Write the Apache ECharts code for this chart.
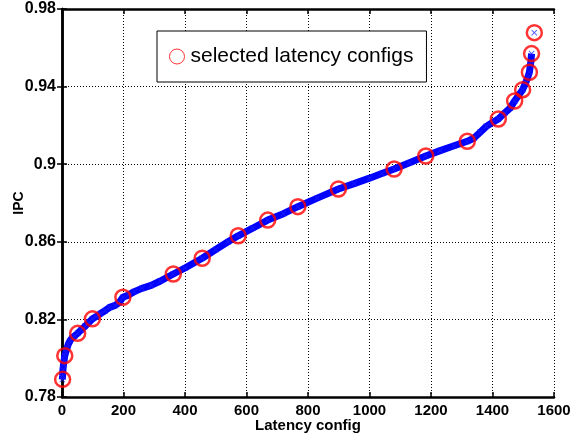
<!DOCTYPE html>
<html>
<head>
<meta charset="utf-8">
<script src="https://cdn.jsdelivr.net/npm/echarts@6/dist/echarts.min.js"></script>
<style>
  html, body { margin: 0; padding: 0; background: #fff; }
  #chart { width: 572px; height: 435px; }
</style>
</head>
<body>
<div id="chart"></div>
<script>
// all latency configs, sorted by IPC
var configIds = [1, 2, 3, 5, 7, 9, 12, 16, 20, 26, 33, 41, 51, 62, 75, 88, 99, 112, 125, 140,
    155, 172, 185, 198, 215, 235, 260, 290, 320, 362, 400, 456, 500, 540, 573, 620, 669, 720,
    767, 830, 899, 950, 1000, 1040, 1080, 1130, 1183, 1230, 1275, 1318, 1340, 1360, 1380, 1400,
    1419, 1440, 1458, 1472, 1485, 1498, 1508, 1515, 1520, 1523, 1525, 1527, 1536];
var ipcValues = [0.789, 0.791, 0.794, 0.797, 0.799, 0.8013, 0.803, 0.805, 0.807, 0.809, 0.8105,
    0.8115, 0.8128, 0.8145, 0.8165, 0.8185, 0.8203, 0.8215, 0.823, 0.8245, 0.8262, 0.8272,
    0.8285, 0.8314, 0.8325, 0.8343, 0.836, 0.8375, 0.8398, 0.8434, 0.8465, 0.8515, 0.856, 0.86,
    0.8631, 0.867, 0.8712, 0.8745, 0.8781, 0.8825, 0.8872, 0.89, 0.8928, 0.8952, 0.8975, 0.9008,
    0.9042, 0.907, 0.9095, 0.9118, 0.9135, 0.9165, 0.9195, 0.9215, 0.9233, 0.9265, 0.929, 0.9326,
    0.9355, 0.9384, 0.942, 0.945, 0.9474, 0.951, 0.953, 0.957, 0.9678];

// selected latency configs (red circles)
var selectedIds = [2, 9, 51, 99, 198, 362, 456, 573, 669, 767, 899, 1080, 1183, 1318, 1419,
    1472, 1498, 1520, 1527, 1536];
var selectedIpc = [0.7891, 0.8013, 0.8128, 0.8203, 0.8314, 0.8434, 0.8515, 0.8631, 0.8712,
    0.8781, 0.8872, 0.8975, 0.9042, 0.9118, 0.9233, 0.9326, 0.9384, 0.9474, 0.957, 0.9678];

var xTicks = [0, 200, 400, 600, 800, 1000, 1200, 1400, 1600];
var yTicks = [0.78, 0.82, 0.86, 0.9, 0.94, 0.98];

var allPoints = [];
for (var i = 0; i < configIds.length; i++) {
    allPoints.push([configIds[i], ipcValues[i]]);
}
var selectedPoints = [];
for (var j = 0; j < selectedIds.length; j++) {
    selectedPoints.push([selectedIds[j], selectedIpc[j]]);
}

var xMark = 'path://M0,1L1,0L5,4L9,0L10,1L6,5L10,9L9,10L5,6L1,10L0,9L4,5Z';
var fontName = '"Liberation Sans", Arial, sans-serif';

var chart = echarts.init(document.getElementById('chart'));
chart.setOption({
    animation: false,
    backgroundColor: '#fff',
    grid: {left: 62, right: 18, top: 9, bottom: 38, containLabel: false, outerBoundsMode: 'none'},
    legend: {
        left: 157,
        top: 31,
        orient: 'horizontal',
        backgroundColor: '#fff',
        borderColor: '#000',
        borderWidth: 1,
        borderRadius: 0,
        padding: [15, 13, 15, 12],
        itemWidth: 17,
        itemHeight: 15,
        itemGap: 0,
        textStyle: {color: '#000', fontFamily: fontName, fontSize: 21},
        data: [{
            name: 'selected latency configs',
            icon: 'circle',
            itemStyle: {color: 'rgba(0,0,0,0)', borderColor: '#ff0000', borderWidth: 1}
        }]
    },
    xAxis: [{
        type: 'value',
        min: xTicks[0],
        max: xTicks[xTicks.length - 1],
        interval: 200,
        name: 'Latency config',
        nameLocation: 'middle',
        nameGap: 21,
        nameMoveOverlap: false,
        nameTextStyle: {color: '#000', fontFamily: fontName, fontWeight: 'bold', fontSize: 15},
        axisLine: {lineStyle: {color: '#000', width: 2.5}},
        axisTick: {inside: true, length: 5, lineStyle: {color: '#000', width: 1.5}},
        axisLabel: {
            margin: 6, color: '#000', fontFamily: fontName, fontWeight: 'bold', fontSize: 15,
            formatter: function (v) { return String(v); }
        },
        splitLine: {show: true, lineStyle: {color: '#000', width: 1, type: [1, 2]}}
    }, {
        type: 'value',
        position: 'top',
        min: xTicks[0],
        max: xTicks[xTicks.length - 1],
        interval: 200,
        axisLine: {show: true, lineStyle: {color: '#000', width: 2.5}},
        axisTick: {show: true, inside: true, length: 5, lineStyle: {color: '#000', width: 1.5}},
        axisLabel: {show: false},
        splitLine: {show: false}
    }],
    yAxis: [{
        type: 'value',
        min: yTicks[0],
        max: yTicks[yTicks.length - 1],
        interval: 0.04,
        name: 'IPC',
        nameLocation: 'middle',
        nameGap: 43,
        nameRotate: 90,
        nameMoveOverlap: false,
        nameTextStyle: {
            color: '#000', fontFamily: fontName, fontWeight: 'bold', fontSize: 14,
            align: 'center', verticalAlign: 'middle'
        },
        axisLine: {show: true, lineStyle: {color: '#000', width: 2.5}},
        axisTick: {show: true, inside: true, length: 5, lineStyle: {color: '#000', width: 1.5}},
        axisLabel: {
            margin: 6, color: '#000', fontFamily: fontName, fontWeight: 'bold', fontSize: 16,
            formatter: function (v) { return String(Math.round(v * 100) / 100); }
        },
        splitLine: {show: true, lineStyle: {color: '#000', width: 1, type: [1, 2]}}
    }, {
        type: 'value',
        position: 'right',
        min: yTicks[0],
        max: yTicks[yTicks.length - 1],
        interval: 0.04,
        axisLine: {show: true, lineStyle: {color: '#000', width: 2.5}},
        axisTick: {show: true, inside: true, length: 5, lineStyle: {color: '#000', width: 1.5}},
        axisLabel: {show: false},
        splitLine: {show: false}
    }],
    series: [
        {
            name: 'all configs',
            type: 'line',
            data: allPoints.slice(0, allPoints.length - 1),
            showSymbol: false,
            lineStyle: {color: '#0000ff', width: 7},
            z: 2
        },
        {
            name: 'config marks',
            type: 'scatter',
            data: allPoints,
            symbol: xMark,
            symbolSize: 6,
            itemStyle: {color: '#2020ff'},
            z: 3
        },
        {
            name: 'selected latency configs',
            type: 'scatter',
            data: selectedPoints,
            symbol: 'circle',
            symbolSize: 15,
            itemStyle: {color: 'rgba(0,0,0,0)', borderColor: '#ff0000', borderWidth: 2.5},
            z: 4
        }
    ]
});
</script>
</body>
</html>
